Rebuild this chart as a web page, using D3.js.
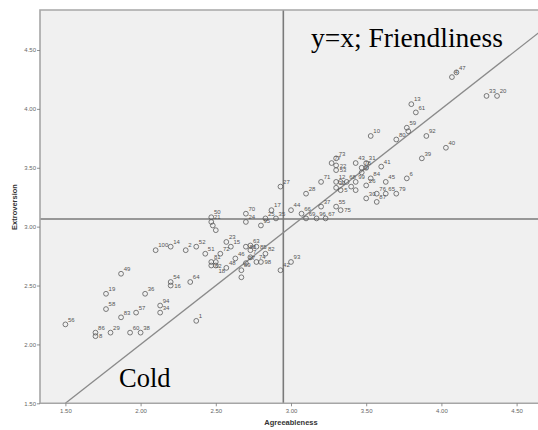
<!DOCTYPE html>
<html>
<head>
<meta charset="utf-8">
<script src="https://cdn.jsdelivr.net/npm/d3@7"></script>
<style>
html,body{margin:0;padding:0;background:#fff;}
svg{display:block;}
</style>
</head>
<body>
<svg id="chart" width="538" height="430"></svg>
<script>
// ---- data ----
const caseLabels = ["56","86","8","29","60","38","19","58","83","57","36","94","34","54","16","49","64","100","14","2","52","1",
"50","21","","","23","15","51","72","46","81","","62","18","48","70","24","25","17","35","44","27","95","63","88","","85","7","74","82","98","97","89","","42","93",
"66","69","96","67","37","55","75","28","71","12","","68","32","99","26","5","","","30","87","76","65","79","45","6","84","41","43","31","78","","9","77","73","22","53",
"10","59","","80","92","13","61","47","4","33","20","40","39"];
const agreeableness = [1.50,1.70,1.70,1.80,1.93,2.00,1.77,1.77,1.87,1.97,2.03,2.13,2.13,2.20,2.20,1.87,2.33,2.10,2.20,2.30,2.37,2.37,
2.47,2.47,2.48,2.50,2.57,2.60,2.43,2.53,2.63,2.47,2.50,2.47,2.50,2.57,2.70,2.70,2.83,2.87,2.90,3.00,2.93,2.80,2.73,2.70,2.73,2.77,2.73,2.77,2.83,2.80,2.70,2.67,2.67,2.93,3.00,
3.07,3.10,3.17,3.23,3.20,3.30,3.33,3.10,3.20,3.30,3.33,3.37,3.30,3.43,3.50,3.33,3.40,3.43,3.50,3.57,3.57,3.63,3.70,3.63,3.77,3.53,3.60,3.43,3.50,3.47,3.50,3.47,3.27,3.30,3.30,3.30,
3.53,3.77,3.78,3.70,3.90,3.80,3.83,4.10,4.07,4.30,4.37,4.03,3.87];
const extroversion = [2.17,2.10,2.07,2.10,2.10,2.10,2.43,2.30,2.23,2.27,2.43,2.33,2.27,2.53,2.50,2.60,2.53,2.80,2.83,2.80,2.83,2.20,
3.08,3.04,3.01,2.97,2.87,2.83,2.77,2.77,2.73,2.70,2.70,2.67,2.67,2.65,3.11,3.04,3.07,3.14,3.07,3.14,3.34,3.01,2.84,2.83,2.80,2.83,2.74,2.70,2.77,2.70,2.69,2.63,2.57,2.63,2.70,
3.11,3.07,3.07,3.07,3.17,3.17,3.14,3.28,3.38,3.38,3.38,3.38,3.33,3.38,3.35,3.31,3.34,3.31,3.24,3.21,3.28,3.28,3.28,3.38,3.41,3.41,3.51,3.54,3.54,3.50,3.50,3.46,3.54,3.58,3.52,3.48,
3.77,3.84,3.81,3.74,3.77,4.04,3.97,4.31,4.27,4.11,4.11,3.67,3.58];
const xTicks = [1.50,2.00,2.50,3.00,3.50,4.00,4.50];
const yTicks = [1.50,2.00,2.50,3.00,3.50,4.00,4.50];
const meanAgreeableness = 2.949;
const meanExtroversion = 3.065;
const xTitle = "Agreeableness";
const yTitle = "Extroversion";
const topRightText = "y=x; Friendliness";
const bottomLeftText = "Cold";

// ---- layout ----
const svg = d3.select("#chart");
const L = 40, R = 538, T = 10, B = 403.3;
const x = d3.scaleLinear().domain([1.5, 4.5]).range([65.4, 516.6]);
const y = d3.scaleLinear().domain([1.5, 4.5]).range([403.3, 50]);
const xMax = x.invert(R), yMax = y.invert(T);

svg.append("rect").attr("x", L).attr("y", T).attr("width", R - L).attr("height", B - T)
  .attr("fill", "#f0f0f0").attr("stroke", "none");

const clip = svg.append("defs").append("clipPath").attr("id", "plotclip");
clip.append("rect").attr("x", L).attr("y", T).attr("width", R - L).attr("height", B - T);
const g = svg.append("g").attr("clip-path", "url(#plotclip)");

// reference lines
g.append("line").attr("x1", L).attr("x2", R).attr("y1", y(meanExtroversion)).attr("y2", y(meanExtroversion))
  .attr("stroke", "#7a7a7a").attr("stroke-width", 1.6);
g.append("line").attr("x1", x(meanAgreeableness)).attr("x2", x(meanAgreeableness)).attr("y1", T).attr("y2", B)
  .attr("stroke", "#7a7a7a").attr("stroke-width", 1.6);
const dEnd = Math.min(xMax, yMax) + 0.2;
g.append("line").attr("x1", x(1.5)).attr("y1", y(1.5)).attr("x2", x(dEnd)).attr("y2", y(dEnd))
  .attr("stroke", "#8a8a8a").attr("stroke-width", 1.3);

// points
const pts = caseLabels.map((lab, i) => ({lab, a: agreeableness[i], e: extroversion[i]}));
g.selectAll("circle.pt").data(pts).enter().append("circle")
  .attr("class", "pt").attr("cx", d => x(d.a)).attr("cy", d => y(d.e)).attr("r", 2.4)
  .attr("fill", "none").attr("stroke", "#5a5a5a").attr("stroke-width", 0.8);

// greedy label placement (upper-right first, then alternatives)
const FS = 6;
const charW = 3.4, lh = 4.6;
const placed = [];
const cands = [[2.6, -2.8, "start"], [3.6, 2.2, "start"], [2.6, 7.6, "start"], [-2.6, -2.8, "end"], [-3.6, 2.2, "end"], [-2.6, 7.6, "end"], [0, -4.5, "middle"]];
function boxFor(cx, cy, c, w) {
  const tx = cx + c[0], ty = cy + c[1];
  const x0 = c[2] === "start" ? tx : c[2] === "end" ? tx - w : tx - w / 2;
  return {x0, x1: x0 + w, y0: ty - lh, y1: ty};
}
function hit(b) {
  return placed.some(p => b.x0 < p.x1 && b.x1 > p.x0 && b.y0 < p.y1 && b.y1 > p.y0);
}
const labelData = [];
pts.filter(d => d.lab !== "").forEach(d => {
  const cx = x(d.a), cy = y(d.e), w = charW * d.lab.length;
  let choice = cands[0], box = boxFor(cx, cy, cands[0], w);
  for (const c of cands) {
    const b = boxFor(cx, cy, c, w);
    if (!hit(b)) { choice = c; box = b; break; }
  }
  placed.push(box);
  labelData.push({lab: d.lab, tx: cx + choice[0], ty: cy + choice[1], anchor: choice[2]});
});
g.selectAll("text.lab").data(labelData).enter().append("text")
  .attr("class", "lab").attr("x", d => d.tx).attr("y", d => d.ty).attr("text-anchor", d => d.anchor)
  .attr("font-family", "Liberation Sans, Arial, sans-serif").attr("font-size", FS)
  .attr("fill", "#555").text(d => d.lab);

// frame
svg.append("path").attr("d", `M${R},${T}H${L}V${B}H${R}`)
  .attr("fill", "none").attr("stroke", "#a6a6a6").attr("stroke-width", 1.6);

// axes
const xAxis = svg.append("g").attr("transform", `translate(0,${B})`)
  .call(d3.axisBottom(x).tickValues(xTicks).tickFormat(d3.format(".2f")).tickSize(3).tickPadding(2));
const yAxis = svg.append("g").attr("transform", `translate(${L},0)`)
  .call(d3.axisLeft(y).tickValues(yTicks).tickFormat(d3.format(".2f")).tickSize(3).tickPadding(1));
[xAxis, yAxis].forEach(ax => {
  ax.select(".domain").remove();
  ax.selectAll(".tick line").attr("stroke", "#777").attr("stroke-width", 0.8);
  ax.selectAll(".tick text").attr("fill", "#666").attr("font-size", 6)
    .attr("font-family", "Liberation Sans, Arial, sans-serif");
});

// axis titles
svg.append("text").attr("x", 291).attr("y", 425).attr("text-anchor", "middle")
  .attr("font-family", "Liberation Sans, Arial, sans-serif").attr("font-size", 7.5).attr("font-weight", "bold")
  .attr("fill", "#333").text(xTitle);
svg.append("text").attr("transform", "translate(17,207) rotate(-90)").attr("text-anchor", "middle")
  .attr("font-family", "Liberation Sans, Arial, sans-serif").attr("font-size", 7.5).attr("font-weight", "bold")
  .attr("fill", "#333").text(yTitle);

// annotations
svg.append("text").attr("x", 311).attr("y", 47)
  .attr("font-family", "Liberation Serif, Times New Roman, serif").attr("font-size", 27.5)
  .attr("fill", "#000").text(topRightText);
svg.append("text").attr("x", 119).attr("y", 387)
  .attr("font-family", "Liberation Serif, Times New Roman, serif").attr("font-size", 26.5)
  .attr("fill", "#000").text(bottomLeftText);
</script>
</body>
</html>
